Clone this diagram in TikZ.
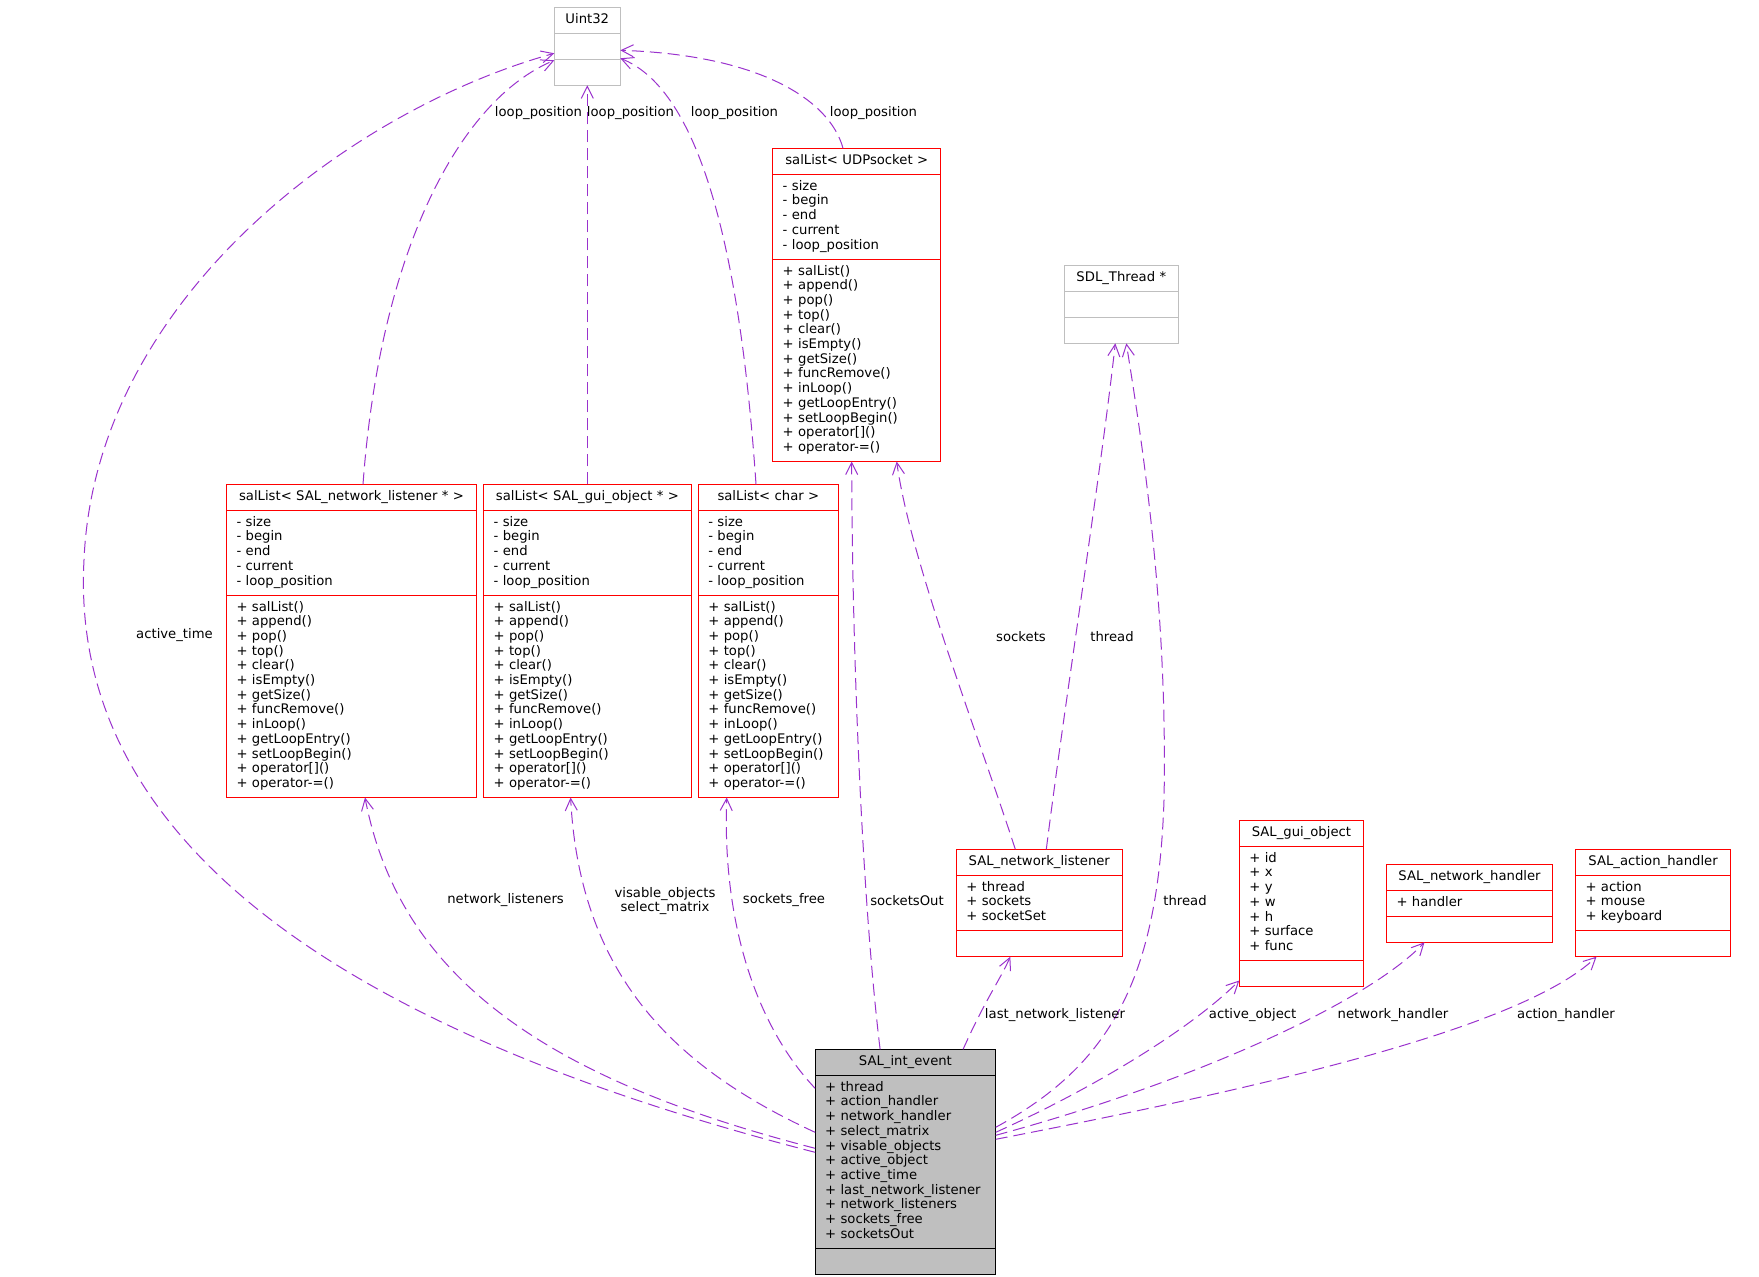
\documentclass[tikz,border=0pt]{standalone}
\usepackage{fontspec}
\setmainfont{DejaVu Sans}
\usetikzlibrary{shapes.multipart, arrows.meta, calc}
\definecolor{edgepurple}{HTML}{9A32CD}
\definecolor{boxred}{HTML}{FF0000}
\definecolor{boxgrey}{HTML}{BFBFBF}

\begin{document}
\begin{tikzpicture}[
  x=0.5pt, y=-0.5pt,
  cls/.style={rectangle split, rectangle split parts=3, draw=boxred, line width=0.5pt, anchor=north west, outer sep=0pt, inner xsep=5pt, inner ysep=2.575pt, align=left, font=\fontsize{6.6}{7.35}\selectfont},
  ext/.style={cls, draw=boxgrey},
  mainbox/.style={cls, draw=black, fill=boxgrey},
  lbl/.style={font=\fontsize{6.6}{7.35}\selectfont, inner sep=0pt, align=center},
  arr/.style={-{Straight Barb[length=6pt, width=6pt]}, dash pattern=on 6pt off 3pt, draw=edgepurple, line width=0.5pt}
]
  \useasboundingbox (0,0) rectangle (1759,1277);

  \node[ext, text width=23pt] (uint) at (554.3,7.3) {\centering\strut Uint32\strut\par\nodepart{two}\strut\nodepart{three}\strut};
  \node[ext, text width=47pt] (sdlthread) at (1064.3,265.3) {\centering\strut SDL\_Thread *\strut\par\nodepart{two}\strut\nodepart{three}\strut};

  \node[cls, text width=74pt] (udplist) at (772.7,148.3) {\centering\strut salList< UDPsocket >\strut\par
    \nodepart{two}\strut - size\\- begin\\- end\\- current\\- loop\_position\strut
    \nodepart{three}\strut + salList()\\+ append()\\+ pop()\\+ top()\\+ clear()\\+ isEmpty()\\+ getSize()\\+ funcRemove()\\+ inLoop()\\+ getLoopEntry()\\+ setLoopBegin()\\+ operator[]()\\+ operator-=()\strut};

  \node[cls, text width=115pt] (nllist) at (226.5,484.3) {\centering\strut salList< SAL\_network\_listener * >\strut\par
    \nodepart{two}\strut - size\\- begin\\- end\\- current\\- loop\_position\strut
    \nodepart{three}\strut + salList()\\+ append()\\+ pop()\\+ top()\\+ clear()\\+ isEmpty()\\+ getSize()\\+ funcRemove()\\+ inLoop()\\+ getLoopEntry()\\+ setLoopBegin()\\+ operator[]()\\+ operator-=()\strut};
  \node[cls, text width=93.85pt] (guilist) at (483.6,484.3) {\centering\strut salList< SAL\_gui\_object * >\strut\par
    \nodepart{two}\strut - size\\- begin\\- end\\- current\\- loop\_position\strut
    \nodepart{three}\strut + salList()\\+ append()\\+ pop()\\+ top()\\+ clear()\\+ isEmpty()\\+ getSize()\\+ funcRemove()\\+ inLoop()\\+ getLoopEntry()\\+ setLoopBegin()\\+ operator[]()\\+ operator-=()\strut};
  \node[cls, text width=60.1pt] (charlist) at (698.3,484.3) {\centering\strut salList< char >\strut\par
    \nodepart{two}\strut - size\\- begin\\- end\\- current\\- loop\_position\strut
    \nodepart{three}\strut + salList()\\+ append()\\+ pop()\\+ top()\\+ clear()\\+ isEmpty()\\+ getSize()\\+ funcRemove()\\+ inLoop()\\+ getLoopEntry()\\+ setLoopBegin()\\+ operator[]()\\+ operator-=()\strut};

  % members of SAL_int_event
  \node[cls, text width=73pt] (netlistener) at (956.3,849.3) {\centering\strut SAL\_network\_listener\strut\par
    \nodepart{two}\strut + thread\\+ sockets\\+ socketSet\strut\nodepart{three}\strut};
  \node[cls, text width=52.1pt] (guiobj) at (1239.3,820.3) {\centering\strut SAL\_gui\_object\strut\par
    \nodepart{two}\strut + id\\+ x\\+ y\\+ w\\+ h\\+ surface\\+ func\strut\nodepart{three}\strut};
  \node[cls, text width=73pt] (nethandler) at (1386.5,864.3) {\centering\strut SAL\_network\_handler\strut\par
    \nodepart{two}\strut + handler\strut\nodepart{three}\strut};
  \node[cls, text width=67.55pt] (actionhandler) at (1575.5,849.3) {\centering\strut SAL\_action\_handler\strut\par
    \nodepart{two}\strut + action\\+ mouse\\+ keyboard\strut\nodepart{three}\strut};

  \node[mainbox, text width=80.3pt] (intevent) at (815.1,1049.3) {\centering\strut SAL\_int\_event\strut\par
    \nodepart{two}\strut + thread\\+ action\_handler\\+ network\_handler\\+ select\_matrix\\+ visable\_objects\\+ active\_object\\+ active\_time\\+ last\_network\_listener\\+ network\_listeners\\+ sockets\_free\\+ socketsOut\strut
    \nodepart{three}\strut};

  % loop_position -> Uint32
  \draw[arr] ($(nllist.north west)+(136.5,0)$) .. controls (380,250) and (460,100) .. ($(uint.north west)+(0,53)$);
  \draw[arr] (guilist.north -| uint.south) -- (uint.south);
  \draw[arr] ($(charlist.north west)+(57.7,0)$) .. controls (740,250) and (700,90) .. ($(uint.north east)+(0,51)$);
  \draw[arr] ($(udplist.north west)+(70.3,0)$) .. controls (830,100) and (760,55) .. ($(uint.north east)+(0,43)$);
  \draw[arr] ($(intevent.north west)+(0,103)$) .. controls (300,1020) and (70,820) .. (84,560) .. controls (95,300) and (350,110) .. ($(uint.north west)+(0,46)$);

  \draw[arr] ($(intevent.north west)+(0,99)$) .. controls (550,1080) and (400,980) .. ($(nllist.south west)+(138.5,0)$);
  \draw[arr] ($(intevent.north west)+(0,83)$) .. controls (680,1070) and (580,980) .. ($(guilist.south west)+(87,0)$);
  \draw[arr] ($(intevent.north west)+(0,39)$) .. controls (760,1030) and (722,930) .. ($(charlist.south west)+(28.4,0)$);
  \draw[arr] ($(intevent.north west)+(65,0)$) .. controls (862,900) and (852,650) .. ($(udplist.south west)+(79,0)$);
  \draw[arr] ($(intevent.north west)+(148,0)$) .. controls (985,1000) and (1000,980) .. ($(netlistener.south west)+(54,0)$);
  \draw[arr] ($(intevent.north east)+(0,78)$) .. controls (1110,1065) and (1158,980) .. (1164,800) .. controls (1168,600) and (1140,430) .. ($(sdlthread.south west)+(62,0)$);
  \draw[arr] ($(intevent.north east)+(0,83)$) .. controls (1090,1090) and (1190,1030) .. ($(guiobj.south west)+(0,-6)$);
  \draw[arr] ($(intevent.north east)+(0,86)$) .. controls (1200,1080) and (1370,1000) .. ($(nethandler.south west)+(38,0)$);
  \draw[arr] ($(intevent.north east)+(0,90)$) .. controls (1250,1090) and (1520,1030) .. ($(actionhandler.south west)+(21,0)$);

  \draw[arr] ($(netlistener.north west)+(59,0)$) .. controls (980,740) and (910,560) .. ($(udplist.south west)+(124,0)$);
  \draw[arr] ($(netlistener.north west)+(90,0)$) .. controls (1065,700) and (1100,480) .. ($(sdlthread.south west)+(51,0)$);

  % edge labels
  \node[lbl] (lpnl) at (538.5,113) {loop\_position};
  \node[lbl] (lpgui) at (630.5,113) {loop\_position};
  \node[lbl] (lpchar) at (734.5,113) {loop\_position};
  \node[lbl] (lpudp) at (873.5,113) {loop\_position};
  \node[lbl] (lactivetime) at (174.5,635) {active\_time};
  \node[lbl] (lnetlisteners) at (505.6,900.5) {network\_listeners};
  \node[lbl] (lvisable) at (665,901) {visable\_objects\\select\_matrix};
  \node[lbl] (lsocketsfree) at (784,900.5) {sockets\_free};
  \node[lbl] (lsocketsout) at (907,900.5) {socketsOut};
  \node[lbl] (lsockets) at (1021,637) {sockets};
  \node[lbl] (lthreadnl) at (1112,637) {thread};
  \node[lbl] (lthread) at (1185,900.5) {thread};
  \node[lbl] (llastnl) at (1055,1015) {last\_network\_listener};
  \node[lbl] (lactiveobj) at (1252.6,1015) {active\_object};
  \node[lbl] (lnethandler) at (1393,1015) {network\_handler};
  \node[lbl] (lactionhandler) at (1566,1015) {action\_handler};
\end{tikzpicture}
\end{document}
